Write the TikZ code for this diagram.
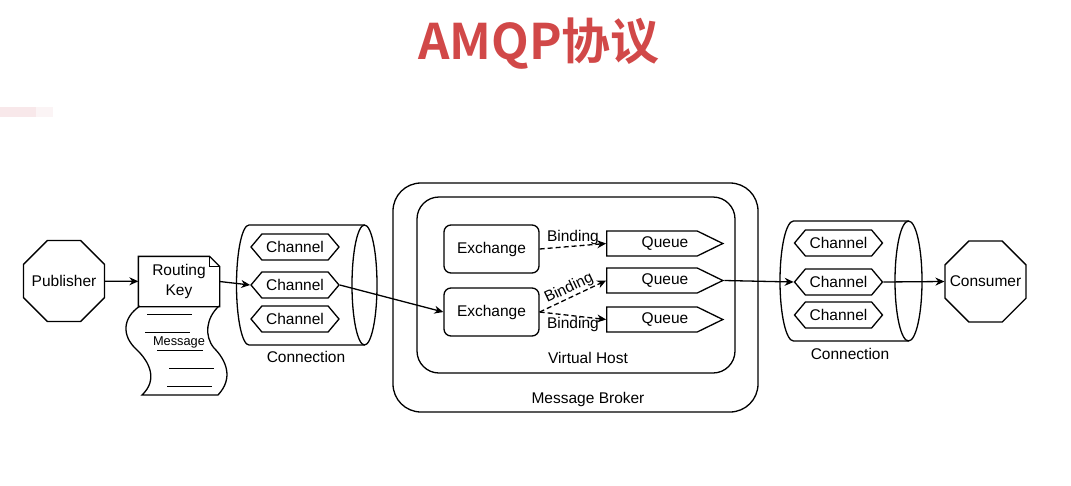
\documentclass[tikz,border=0pt]{standalone}
\usepackage{fontspec}
\setmainfont{Liberation Sans}
\newfontfamily\cjk{Noto Sans CJK SC}[BoldFont=* Bold]
\usetikzlibrary{positioning,arrows.meta,shapes.geometric,shapes.symbols}
\definecolor{titlered}{HTML}{D14848}
\definecolor{smear}{HTML}{F8E8EA}
\newcommand\lbl{\fontsize{15.5}{20}\selectfont}
\newcommand\flatlbl[1]{\makebox[0pt]{#1}}
\tikzset{every path/.style={line width=1.3pt},
actor/.style={draw,regular polygon,regular polygon sides=8,minimum size=87.5pt,inner sep=0pt,font=\lbl},
chan/.style={draw,signal,signal to=west and east,signal pointer angle=100,minimum width=88pt,minimum height=26pt,inner sep=0pt,font=\lbl},
queue/.style={draw,signal,signal to=east,signal pointer angle=52,minimum width=116pt,minimum height=25pt,inner sep=0pt,font=\lbl},
exch/.style={draw,rounded corners=7pt,minimum width=95pt,minimum height=48pt,font=\lbl},
tag/.style={inner sep=1pt,font=\lbl},
link/.style={-{Stealth[length=9pt,width=8pt]}},
bind/.style={link,dash pattern=on 5pt off 3pt}}

\begin{document}
\begin{tikzpicture}[x=1pt,y=-1pt]
\useasboundingbox (0,0) rectangle (1071,485);
\node[font=\cjk\bfseries\fontsize{49}{55}\selectfont,text=titlered,anchor=base] (ttl) at (539,59) {AMQP协议};
\fill[smear] (0,107) rectangle (36,117);
\fill[smear!50] (36,107) rectangle (53,117);
% publisher and message
\node[actor] (pub) at (64,281) {\flatlbl{Publisher}};
\node[tag,minimum width=80pt,minimum height=49pt,align=center] (rk) at (179,281.5) {Routing\\Key};
\draw (rk.south west) -- (rk.north west) -- ([xshift=-10pt]rk.north east) -- ([yshift=-10pt]rk.north east) -- (rk.south east) -- cycle;
\draw ([xshift=-10pt]rk.north east) -- ([xshift=-10pt,yshift=-10pt]rk.north east) -- ([yshift=-10pt]rk.north east);
\draw (140,306) .. controls (122,318) and (122,336) .. (136,349) .. controls (150,362) and (158,380) .. (142,395) -- (218,395)
  .. controls (234,378) and (226,360) .. (214,348) .. controls (204,336) and (206,318) .. (219,306);
\draw[line width=1pt] (147,314) -- (192,314) (145,332) -- (190,332) (157,350) -- (203,350) (169,368) -- (214,368) (167,386) -- (212,386);
\node[inner sep=1pt,fill=white,font=\fontsize{12.8}{15}\selectfont] (msg) at (179,342) {Message};
% first connection
\draw (364.5,225) -- (249,225) arc[start angle=90,end angle=270,x radius=12.5pt,y radius=60pt] -- (364.5,345);
\draw (364.5,285) ellipse[x radius=12.5pt,y radius=60pt];
\node[chan] (ch11) at (295,247) {Channel};
\node[chan] (ch12) at (295,285) {Channel};
\node[chan] (ch13) at (295,319) {Channel};
\node[tag] (conn1) at (306,357) {Connection};
% broker
\draw[rounded corners=28pt] (393,183) rectangle (758,412);
\draw[rounded corners=22pt] (417,197) rectangle (735,373);
\node[tag] (vh) at (588,358) {Virtual Host};
\node[tag] (mb) at (588,399) {Message Broker};
\node[exch] (ex1) at (491.5,249) {Exchange};
\node[exch] (ex2) at (491.5,312) {Exchange};
\node[queue] (q1) at (652,243.5) {\hspace*{26pt}Queue};
\node[queue] (q2) at (652,280.5) {\hspace*{26pt}Queue};
\node[queue] (q3) at (652,319.5) {\hspace*{26pt}Queue};
% second connection
\draw (908.5,221) -- (793.5,221) arc[start angle=90,end angle=270,x radius=13.5pt,y radius=60pt] -- (908.5,341);
\draw (908.5,281) ellipse[x radius=13.5pt,y radius=60pt];
\node[chan] (ch21) at (838.5,243) {Channel};
\node[chan] (ch22) at (838.5,282) {Channel};
\node[chan] (ch23) at (838.5,315) {Channel};
\node[tag] (conn2) at (850,354) {Connection};
\node[actor] (cons) at (985.5,281.5) {\flatlbl{Consumer}};
% flow
\draw[link] (pub) -- (rk);
\draw[link] (rk.east) -- (ch12.west);
\draw[link] (ch12.east) -- (ex2.west);
\draw[bind] (ex1.east) -- node[tag,above] {Binding} (q1.west);
\draw[bind] (ex2.east) -- node[tag,above,sloped,pos=.5] {Binding} (q2.west);
\draw[bind] (ex2.east) -- node[tag,below] {Binding} (q3.west);
\draw[link] (q2.east) -- (ch22.west);
\draw[link] (ch22.east) -- (cons.west);
\end{tikzpicture}
\end{document}
